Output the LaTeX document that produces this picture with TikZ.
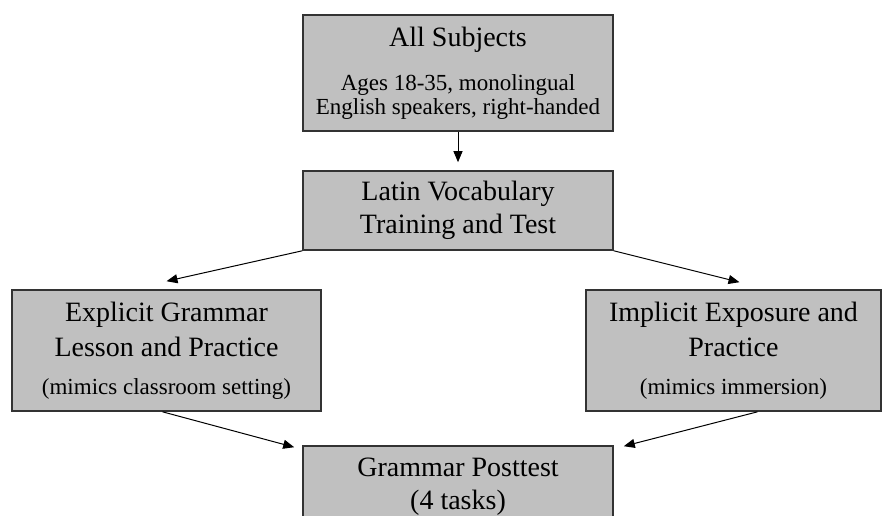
\documentclass[tikz,border=0pt]{standalone}
\usepackage{fontspec}
\setmainfont{Liberation Serif}
\usetikzlibrary{arrows.meta}
\definecolor{boxgray}{RGB}{192,192,192}
\newcommand{\subtxt}{\fontsize{23}{24}\selectfont}
\newcommand{\maintxt}{\fontsize{28}{33}\selectfont}
\begin{document}
\begin{tikzpicture}[x=1pt,y=-1pt,inner sep=0pt]
	\tikzstyle{box_style} = [draw=black!80, line width=1.6pt, fill=boxgray, align=center, minimum width=310pt, font=\maintxt]
	\tikzstyle{arrow_style} = [line width=1pt, -{Triangle[length=11pt,width=9pt]}]
	\useasboundingbox (0,0) rectangle (883,515);
	\clip (0,0) rectangle (883,515);
	%%%
	\path (458,73) node[box_style, minimum height=116pt, font=\subtxt] (subjects)
		{{\maintxt All Subjects}\\[20pt]Ages 18-35, monolingual\\English speakers, right-handed};
	\path (458,210.5) node[box_style, minimum height=79pt] (vocab)
		{Latin Vocabulary\\Training and Test};
	\path (166.5,350.5) node[box_style, minimum width=309pt, minimum height=121pt, font=\fontsize{28}{35}\selectfont] (explicit)
		{Explicit Grammar\\Lesson and Practice\\[3pt]{\subtxt (mimics classroom setting)}};
	\path (733.5,350.5) node[box_style, minimum width=295pt, minimum height=121pt, font=\fontsize{28}{35}\selectfont] (implicit)
		{Implicit Exposure and\\Practice\\[3pt]{\subtxt (mimics immersion)}};
	\path (458,487) node[box_style, minimum height=82pt] (posttest)
		{Grammar Posttest\\(4 tasks)};
	%%%
	\draw[arrow_style, shorten >=8pt] (subjects) -- (vocab);
	\draw[arrow_style] (vocab.south west) -- ([yshift=8pt]explicit.north);
	\draw[arrow_style] (vocab.south east) -- ([xshift=6pt,yshift=7pt]implicit.north);
	\draw[arrow_style] ([xshift=-4pt]explicit.south) -- ([xshift=-8pt,yshift=-2pt]posttest.north west);
	\draw[arrow_style] ([xshift=24pt]implicit.south) -- ([xshift=10pt,yshift=-1pt]posttest.north east);
\end{tikzpicture}
\end{document}
